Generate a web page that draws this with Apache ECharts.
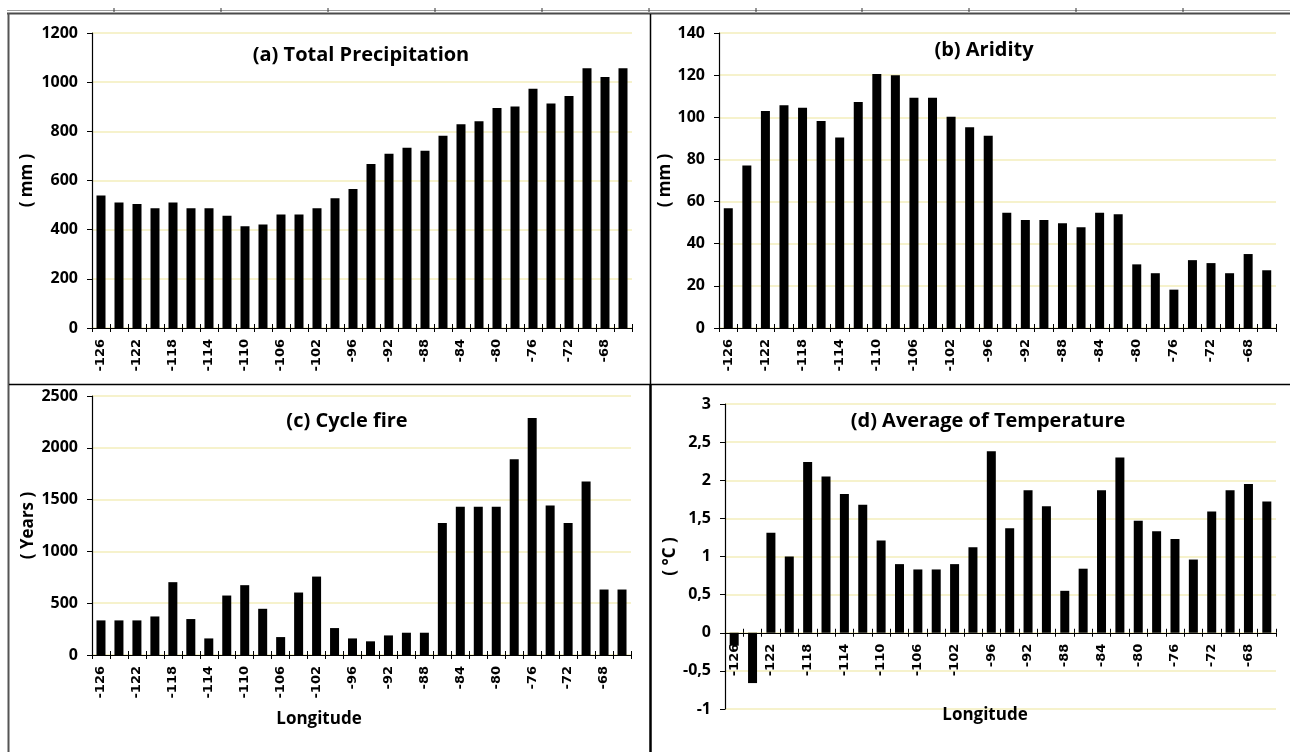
<!DOCTYPE html>
<html>
<head>
<meta charset="utf-8">
<script src="https://cdn.jsdelivr.net/npm/echarts@6/dist/echarts.min.js"></script>
<style>
  html, body { margin: 0; padding: 0; background: #ffffff; }
  #chart { width: 1290px; height: 752px; }
</style>
</head>
<body>
<div id="chart"></div>
<script>
// Longitude bins (every second one is labelled on the axis)
const longitudes = ['-126','-124','-122','-120','-118','-116','-114','-112','-110','-108',
                    '-106','-104','-102','-98','-96','-94','-92','-90','-88','-86',
                    '-84','-82','-80','-78','-76','-74','-72','-70','-68','-66'];

// (a) Total precipitation, mm
const precipitation = [539, 511, 504, 487, 511, 487, 487, 457, 414, 421,
                       462, 462, 487, 528, 565, 667, 709, 733, 721, 782,
                       829, 841, 895, 901, 973, 913, 944, 1057, 1021, 1057];

// (b) Aridity, mm
const aridity = [56.8, 77.1, 103, 105.7, 104.5, 98.2, 90.4, 107.3, 120.5, 119.9,
                 109.3, 109.3, 100.2, 95.3, 91.2, 54.7, 51.3, 51.3, 49.7, 47.8,
                 54.7, 54, 30.2, 26, 18.2, 32.2, 30.8, 26, 35.1, 27.4];

// (c) Fire cycle, years
const fireCycle = [334, 334, 334, 372, 703, 347, 160, 574, 674, 446,
                   173, 603, 757, 260, 160, 132, 189, 215, 215, 1274,
                   1431, 1431, 1431, 1890, 2288, 1444, 1274, 1675, 632, 632];

// (d) Average temperature, °C
const temperature = [-0.17, -0.66, 1.31, 1.0, 2.24, 2.05, 1.82, 1.68, 1.21, 0.90,
                     0.83, 0.83, 0.90, 1.12, 2.38, 1.37, 1.87, 1.66, 0.55, 0.84,
                     1.87, 2.30, 1.47, 1.33, 1.23, 0.96, 1.59, 1.87, 1.95, 1.72];

const panelTitles = ['(a) Total Precipitation', '(b) Aridity', '(c) Cycle fire', '(d) Average of Temperature'];
const unitNames = ['( mm )', '( mm )', '( Years )', '( °C )'];
const xAxisTitle = 'Longitude';
const yMin = [0, 0, 0, -1];
const yMax = [1200, 140, 2500, 3];
const yStep = [200, 20, 500, 0.5];

const FONT = '"Open Sans", "Noto Sans", sans-serif';
const TICK_FONT = '"DejaVu Sans", sans-serif';
const GRID_COLOR = '#f3eebb';

const grids = [
  { left: 92,  top: 33,  width: 540, height: 295 },
  { left: 719, top: 33,  width: 557, height: 295 },
  { left: 92,  top: 396, width: 539, height: 259 },
  { left: 725, top: 404, width: 551, height: 305 }
];

const titlePos = [[361, 45], [984, 40], [347, 411], [988, 411]];
const yNameGaps = [56, 40, 55, 46];

const xAxes = [];
const yAxes = [];
const series = [];
const titles = [];
const values = [precipitation, aridity, fireCycle, temperature];

for (let i = 0; i < 4; i++) {
  // the category axis sits on the value 0 line of its panel
  const zeroShift = -(0 - yMin[i]) / (yMax[i] - yMin[i]) * grids[i].height;
  // labelled axis with ticks below the line
  xAxes.push({
    type: 'category', gridIndex: i, data: longitudes, position: 'bottom', offset: zeroShift,
    axisLine: { onZero: false, lineStyle: { color: '#000', width: 1.2 } },
    axisTick: { show: true, interval: 0, length: 4, lineStyle: { color: '#000' } },
    axisLabel: { interval: 1, rotate: 90, color: '#000', fontFamily: TICK_FONT, fontWeight: 'bold', fontSize: 13, margin: 11 },
    splitLine: { show: false }
  });
  // companion axis giving the ticks their upper half
  xAxes.push({
    type: 'category', gridIndex: i, data: longitudes, position: 'bottom', offset: zeroShift,
    axisLine: { show: false, onZero: false },
    axisTick: { show: true, inside: true, interval: 0, length: 4, lineStyle: { color: '#000' } },
    axisLabel: { show: false },
    splitLine: { show: false }
  });
  yAxes.push({
    type: 'value', gridIndex: i, min: yMin[i], max: yMax[i], interval: yStep[i],
    axisLine: { show: true, lineStyle: { color: '#000', width: 1.2 } },
    axisTick: { show: true, length: 5, lineStyle: { color: '#000' } },
    axisLabel: {
      color: '#000', fontFamily: FONT, fontWeight: 'bold', fontSize: 16, margin: 14,
      formatter: v => String(v).replace('.', ',')
    },
    splitLine: { show: true, lineStyle: { color: GRID_COLOR, width: 1.5 } },
    name: unitNames[i], nameLocation: 'middle', nameGap: yNameGaps[i], nameRotate: 90,
    nameTextStyle: { color: '#000', fontFamily: FONT, fontWeight: 'bold', fontSize: 17 }
  });
  series.push({
    type: 'bar', xAxisIndex: i * 2, yAxisIndex: i, data: values[i],
    barWidth: 9, itemStyle: { color: '#000' }, silent: true, animation: false
  });
  titles.push({
    text: panelTitles[i], left: titlePos[i][0], top: titlePos[i][1], textAlign: 'center', padding: 0,
    textStyle: { color: '#000', fontFamily: FONT, fontWeight: 'bold', fontSize: 20 }
  });
}

// horizontal axis captions under the two lower panels
[[319, 711], [985, 707]].forEach(p => {
  titles.push({
    text: xAxisTitle, left: p[0], top: p[1], textAlign: 'center', padding: 0,
    textStyle: { color: '#000', fontFamily: FONT, fontWeight: 'bold', fontSize: 17 }
  });
});

// sheet frame: double rule along the top with column marks, panel dividers
const frame = [];
frame.push({ type: 'line', shape: { x1: 7, y1: 10.5, x2: 1290, y2: 10.5 }, style: { stroke: '#9c9c9c', lineWidth: 1 } });
frame.push({ type: 'line', shape: { x1: 7, y1: 13.5, x2: 1290, y2: 13.5 }, style: { stroke: '#4a4a4a', lineWidth: 2 } });
[114, 221, 328, 435, 542, 649, 756, 862, 969, 1076, 1183].forEach(x => {
  frame.push({ type: 'line', shape: { x1: x, y1: 8, x2: x, y2: 12 }, style: { stroke: '#333', lineWidth: 1 } });
});
frame.push({ type: 'line', shape: { x1: 8.5, y1: 13, x2: 8.5, y2: 752 }, style: { stroke: '#555', lineWidth: 2 } });
frame.push({ type: 'line', shape: { x1: 650.5, y1: 14, x2: 650.5, y2: 384 }, style: { stroke: '#000', lineWidth: 1.5 } });
frame.push({ type: 'line', shape: { x1: 650.5, y1: 384, x2: 650.5, y2: 752 }, style: { stroke: '#000', lineWidth: 2.5 } });
frame.push({ type: 'line', shape: { x1: 9, y1: 384.5, x2: 1290, y2: 384.5 }, style: { stroke: '#000', lineWidth: 1.5 } });

const chart = echarts.init(document.getElementById('chart'), null, { renderer: 'canvas' });
chart.setOption({
  backgroundColor: '#ffffff',
  animation: false,
  title: titles,
  grid: grids,
  xAxis: xAxes,
  yAxis: yAxes,
  series: series,
  graphic: frame
});
</script>
</body>
</html>
